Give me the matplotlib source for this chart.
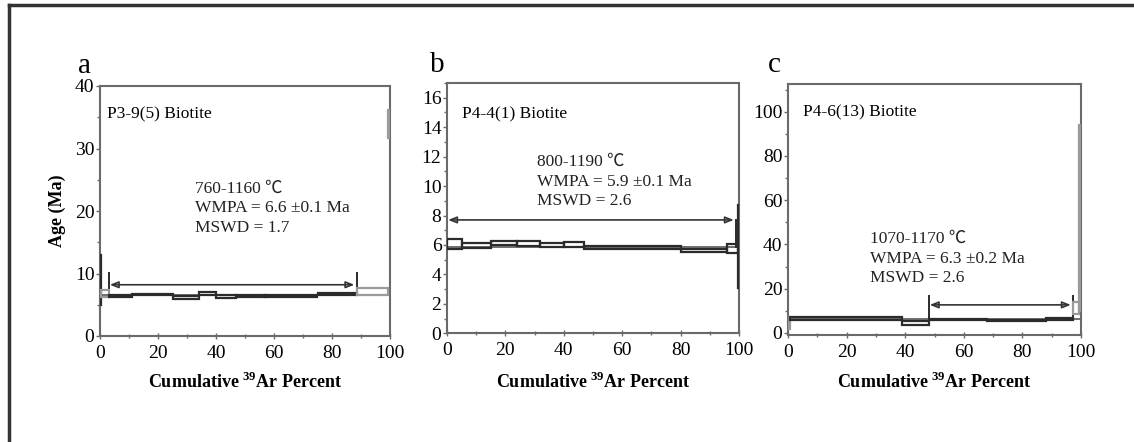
import matplotlib.pyplot as plt
from matplotlib.patches import Rectangle
from matplotlib.lines import Line2D
from matplotlib.ticker import MultipleLocator

plt.rcParams['font.family'] = ['Liberation Serif', 'Noto Sans CJK SC', 'DejaVu Sans']
plt.rcParams['mathtext.fontset'] = 'custom'
plt.rcParams['mathtext.rm'] = 'Liberation Serif'
plt.rcParams['mathtext.bf'] = 'Liberation Serif:bold'

# step edges (cumulative 39Ar %), age low / high (Ma), drawn dark?
a_x0 = [0.0, 0.5, 3, 11, 25, 34, 40, 47, 57, 75, 88.5, 99.4]
a_x1 = [0.5, 3.0, 11, 25, 34, 40, 47, 57, 75, 88.5, 99.4, 100]
a_lo = [5.0, 6.3, 6.3, 6.5, 6.0, 6.5, 6.1, 6.2, 6.3, 6.5, 6.6, 31.7]
a_hi = [13.0, 7.4, 6.5, 6.7, 6.4, 7.1, 6.5, 6.5, 6.5, 6.9, 7.7, 36.2]
a_in = [1, 0, 1, 1, 1, 1, 1, 1, 1, 1, 0, 0]

b_x0 = [0.0, 5, 15, 24, 32, 40, 47, 80, 96, 99.7]
b_x1 = [5.0, 15, 24, 32, 40, 47, 80, 96, 99.7, 100]
b_lo = [5.75, 5.8, 6.0, 5.95, 5.85, 5.85, 5.75, 5.55, 5.45, 3.1]
b_hi = [6.4, 6.15, 6.3, 6.25, 6.15, 6.2, 5.95, 5.75, 6.05, 8.7]
b_in = [1, 1, 1, 1, 1, 1, 1, 1, 1, 1]

c_x0 = [0.0, 0.8, 39, 48, 68, 88, 97.3, 99.3]
c_x1 = [0.8, 39, 48, 68, 88, 97.3, 99.3, 100]
c_lo = [2.0, 5.7, 3.6, 5.8, 5.2, 5.9, 8.5, 10.0]
c_hi = [7.0, 7.0, 5.6, 6.4, 6.0, 6.6, 13.8, 94.0]
c_in = [0, 1, 1, 1, 1, 1, 0, 0]

names = ["P3-9(5) Biotite", "P4-4(1) Biotite", "P4-6(13) Biotite"]
letters = ["a", "b", "c"]
temps = ["760-1160 \u2103", "800-1190 \u2103", "1070-1170 \u2103"]
wmpa = ["WMPA = 6.6 \u00b10.1 Ma", "WMPA = 5.9 \u00b10.1 Ma", "WMPA = 6.3 \u00b10.2 Ma"]
mswd = ["MSWD = 1.7", "MSWD = 2.6", "MSWD = 2.6"]
plateau_age = [6.6, 5.85, 6.1]
arrow_from = [3, 0, 48]
arrow_to = [88.5, 99, 97.3]
arrow_y = [8.2, 7.7, 12.7]
bar_top = [10.1, 7.7, 16.7]
ylims = [(0, 40), (0, 17), (-1, 112.5)]
ymaj = [10, 2, 20]
ymin = [5, 1, 10]

W, H = 1134, 442
fig = plt.figure(figsize=(W / 100, H / 100), dpi=100)

# pixel boxes: left, right, top, bottom
boxes = [(100, 390, 86, 336), (447, 739, 83, 333.3), (788, 1081, 84, 335.2)]
steps = [(a_x0, a_x1, a_lo, a_hi, a_in), (b_x0, b_x1, b_lo, b_hi, b_in),
         (c_x0, c_x1, c_lo, c_hi, c_in)]
text_pos = [(2.4, 35.4, 32.6, 20.4), (5.1, 14.9, 30.8, 10.3), (5.1, 99.5, 28, 33.5)]
letter_px = [(78, 73), (430, 72), (768, 72)]

dark = "#2b2b2b"
gray = "#9a9a9a"
spine_c = "#6a6a6a"

for i in range(3):
    l, r, t, b = boxes[i]
    ax = fig.add_axes([l / W, 1 - b / H, (r - l) / W, (b - t) / H])
    ax.set_xlim(0, 100)
    ax.set_ylim(*ylims[i])

    x0, x1, lo, hi, inp = steps[i]
    for j in range(len(x0)):
        c = dark if inp[j] else gray
        ax.add_patch(Rectangle((x0[j], lo[j]), x1[j] - x0[j], hi[j] - lo[j],
                               fill=False, edgecolor=c, lw=1.6, zorder=3))
    ax.axhline(plateau_age[i], color="#555555", lw=1.2, zorder=2)

    # plateau range bars and arrow
    ax.plot([arrow_from[i]] * 2, [plateau_age[i], bar_top[i]], color=dark, lw=1.4)
    ax.plot([arrow_to[i]] * 2, [plateau_age[i], bar_top[i]], color=dark, lw=1.4)
    ax.annotate("", xy=(arrow_from[i] + 0.4, arrow_y[i]),
                xytext=(arrow_to[i] - 0.8, arrow_y[i]),
                arrowprops=dict(arrowstyle="<|-|>,head_length=0.5,head_width=0.2",
                                color="#333333", lw=1.2, fill=False,
                                shrinkA=0, shrinkB=0))

    nx, ny, tx, ty = text_pos[i]
    ax.text(nx, ny, names[i], fontsize=12.5, va="center", ha="left")
    ax.text(tx, ty, temps[i] + "\n" + wmpa[i] + "\n" + mswd[i], fontsize=12.5,
            va="center", ha="left", linespacing=1.3, color="#222222")

    ax.xaxis.set_major_locator(MultipleLocator(20))
    ax.xaxis.set_minor_locator(MultipleLocator(10))
    ax.yaxis.set_major_locator(MultipleLocator(ymaj[i]))
    ax.yaxis.set_minor_locator(MultipleLocator(ymin[i]))
    ax.tick_params(axis="x", which="both", direction="inout", length=5,
                   width=1, color=spine_c, labelsize=14, pad=4)
    ax.tick_params(axis="x", which="minor", length=3)
    ax.tick_params(axis="y", which="both", direction="out", length=3,
                   width=1, color=spine_c, labelsize=14, pad=1)
    ax.tick_params(axis="y", which="minor", length=2)
    if i == 2:
        ax.set_yticks([0, 20, 40, 60, 80, 100])
    for s in ax.spines.values():
        s.set_color(spine_c)
        s.set_linewidth(1.5)

    ax.set_xlabel(r"Cumulative $^{\mathbf{39}}$Ar Percent", fontsize=13,
                  fontweight="bold")
    ax.xaxis.set_label_coords(0.5, (b - 382) / (b - t))
    ax.xaxis.label.set_va("center")
    if i == 0:
        ax.set_ylabel("Age (Ma)", fontsize=13, fontweight="bold")
        ax.yaxis.set_label_coords((57 - l) / (r - l), 0.5)
        ax.yaxis.label.set_va("center")

    lx, ly = letter_px[i]
    fig.text(lx / W, 1 - ly / H, letters[i], fontsize=21, va="baseline", ha="left")

# outer frame (only top and left edges fall inside the picture)
fig.add_artist(Line2D([9 / W, 1], [1 - 5 / H, 1 - 5 / H], color="#333333", lw=2.5,
                      transform=fig.transFigure))
fig.add_artist(Line2D([9 / W, 9 / W], [1 - 5 / H, 0], color="#333333", lw=2.5,
                      transform=fig.transFigure))

fig.savefig("out.png", dpi=100)
